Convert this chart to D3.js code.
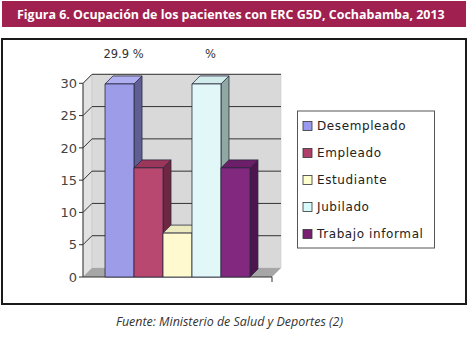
<!DOCTYPE html>
<html><head><meta charset="utf-8">
<script src="https://cdn.jsdelivr.net/npm/d3@7"></script>
<style>body{margin:0;background:#fff}svg{display:block}</style>
</head><body>
<script>
const title = "Figura 6. Ocupación de los pacientes con ERC G5D, Cochabamba, 2013";
const caption = "Fuente: Ministerio de Salud y Deportes (2)";
const categories = ["Desempleado","Empleado","Estudiante","Jubilado","Trabajo informal"];
const values = [29.9, 16.9, 6.8, 29.9, 16.9];
const topLabels = ["29.9 %", "", "", "%", ""];
const yTicks = [0,5,10,15,20,25,30];
const fronts = ["#9c9ce8","#b94870","#fff9cf","#e2f8f8","#82287e"];
const tops   = ["#aeaef0","#9a3659","#ecebbf","#d2ecec","#6c1e68"];
const sides  = ["#5f5f96","#6e2641","#bdb88f","#8fa8a2","#4e1450"];
const swatch = ["#9999f0","#b0406a","#ffffcc","#d8fafa","#7a2070"];

const W = 469, H = 339;
const svg = d3.select("body").append("svg").attr("width", W).attr("height", H);

function fitText(sel, target, size) {
  sel.attr("font-size", size);
  const w = sel.node().getComputedTextLength();
  if (w > 0) sel.attr("font-size", (size * target / w).toFixed(2));
}

// title bar
svg.append("rect").attr("x",2).attr("y",1).attr("width",464).attr("height",26).attr("fill","#a0204f");
const tt = svg.append("text").attr("x",17).attr("y",19).attr("fill","#fff")
  .attr("font-family","Open Sans, Liberation Sans, sans-serif").attr("font-weight","bold").text(title);
fitText(tt, 428, 13);

// frame
svg.append("rect").attr("x",2).attr("y",39).attr("width",464).attr("height",265)
  .attr("fill","#fff").attr("stroke","#1a1a1a").attr("stroke-width",2);

// scales
const x0 = 83, x1 = 272;
const y = d3.scaleLinear().domain([0,30]).range([277,83.3]);
const x = d3.scaleBand().domain(categories).range([x0,x1]).paddingInner(0).paddingOuter(0.76);
const dX = 9, dY = -9;   // wall depth
const bX = 8, bY = -8;   // bar depth

const yTop = y(30), yBot = y(0);
const poly = pts => pts.map(p=>p.join(",")).join(" ");

// left side wall
svg.append("polygon").attr("points", poly([[x0,yTop],[x0+dX,yTop+dY],[x0+dX,yBot+dY],[x0,yBot]]))
  .attr("fill","#e2e2e2").attr("stroke","#bbb").attr("stroke-width",0.5);
// back wall
svg.append("polygon").attr("points", poly([[x0+dX,yTop+dY],[x1+dX,yTop+dY],[x1+dX,yBot+dY],[x0+dX,yBot+dY]]))
  .attr("fill","#d9d9d9").attr("stroke","#c4c4c4").attr("stroke-width",0.5);
// floor
svg.append("polygon").attr("points", poly([[x0,yBot],[x0+dX,yBot+dY],[x1+dX,yBot+dY],[x1,yBot]]))
  .attr("fill","#a6a6a6");

// gridlines on back wall + slanted lines on side wall
const g = svg.append("g");
yTicks.filter(t=>t>0).forEach(t=>{
  g.append("line").attr("x1",x0+dX).attr("x2",x1+dX).attr("y1",y(t)+dY).attr("y2",y(t)+dY)
    .attr("stroke","#333").attr("stroke-width",1);
  g.append("line").attr("x1",x0).attr("x2",x0+dX).attr("y1",y(t)).attr("y2",y(t)+dY)
    .attr("stroke","#333").attr("stroke-width",1);
});

// axis
svg.append("line").attr("x1",x0).attr("x2",x0).attr("y1",yTop).attr("y2",yBot).attr("stroke","#333");
svg.append("line").attr("x1",x0).attr("x2",x1).attr("y1",yBot).attr("y2",yBot).attr("stroke","#333");
svg.append("line").attr("x1",x1).attr("x2",x1).attr("y1",yBot).attr("y2",yBot+5).attr("stroke","#333");
yTicks.forEach(t=>{
  svg.append("line").attr("x1",x0-4).attr("x2",x0).attr("y1",y(t)).attr("y2",y(t)).attr("stroke","#333");
  svg.append("text").attr("x",77).attr("y",y(t)).attr("dy","0.36em").attr("text-anchor","end")
    .attr("font-family","DejaVu Sans, sans-serif").attr("font-size",13).attr("fill","#444").text(t);
});

// bars
categories.forEach((c,i)=>{
  const bx = x(c), bw = x.bandwidth(), ty = y(values[i]), by = y(0);
  const bg = svg.append("g").attr("stroke","#2a2a40").attr("stroke-width",0.8).attr("stroke-linejoin","round");
  bg.append("polygon").attr("points", poly([[bx+bw,ty],[bx+bw+bX,ty+bY],[bx+bw+bX,by+bY],[bx+bw,by]])).attr("fill",sides[i]);
  bg.append("polygon").attr("points", poly([[bx,ty],[bx+bX,ty+bY],[bx+bw+bX,ty+bY],[bx+bw,ty]])).attr("fill",tops[i]);
  bg.append("rect").attr("x",bx).attr("y",ty).attr("width",bw).attr("height",by-ty).attr("fill",fronts[i]);
  if (topLabels[i]) {
    svg.append("text").attr("x",bx+bw/2+4).attr("y",54).attr("dy","0.36em").attr("text-anchor","middle")
      .attr("font-family","DejaVu Sans, sans-serif").attr("font-size",11.5).attr("fill","#333").text(topLabels[i]);
  }
});

// legend
const lg = svg.append("g");
lg.append("rect").attr("x",297.5).attr("y",111).attr("width",137).attr("height",137)
  .attr("fill","#fff").attr("stroke","#555").attr("stroke-width",1);
categories.forEach((c,i)=>{
  const cy = 126 + i*27;
  lg.append("rect").attr("x",303).attr("y",cy-4.5).attr("width",9).attr("height",9)
    .attr("fill",swatch[i]).attr("stroke","#333").attr("stroke-width",0.8);
  lg.append("text").attr("x",317).attr("y",cy).attr("dy","0.36em")
    .attr("font-family","DejaVu Sans, sans-serif").attr("font-size",12).attr("letter-spacing",0.6)
    .attr("fill","#222").text(c);
});

// caption
const ct = svg.append("text").attr("x",116).attr("y",326).attr("fill","#333")
  .attr("font-family","Open Sans, Liberation Sans, sans-serif").attr("font-style","italic").text(caption);
fitText(ct, 227, 13);
</script>
</body></html>
